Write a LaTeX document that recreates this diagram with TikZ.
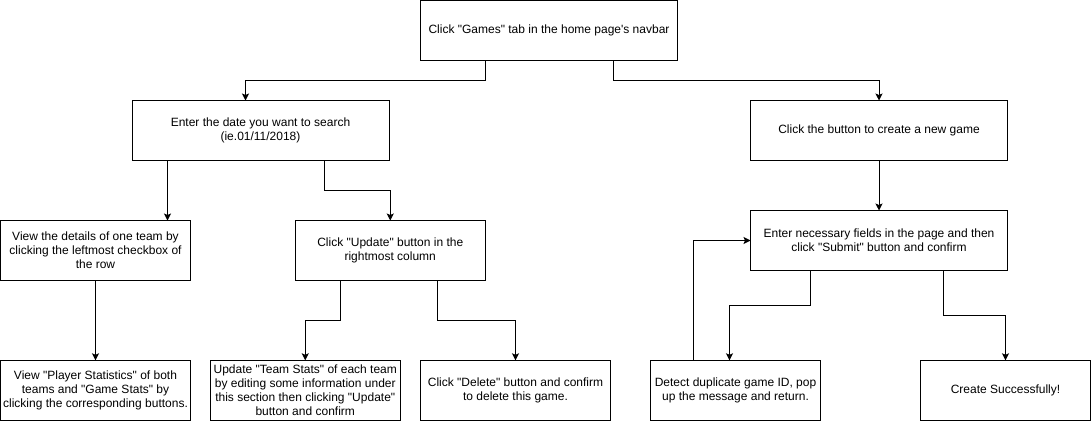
\documentclass[tikz,border=0pt]{standalone}
\usepackage{fontspec}
\setmainfont{Liberation Sans}[Ligatures=TeXOff]
\usetikzlibrary{arrows.meta}
\tikzset{
  box/.style={draw=black, line width=1pt, fill=white, inner sep=0pt, outer sep=0pt,
    align=center, minimum height=60pt, font=\fontsize{12pt}{14pt}\selectfont},
  arr/.style={draw=black, line width=1pt, -{Stealth[length=7pt,width=7pt,inset=1.5pt]}}
}
\begin{document}
\begin{tikzpicture}[x=1pt,y=-1pt]
\useasboundingbox[fill=white] (0,0) rectangle (1091,421);
% nodes
\node[box, minimum width=257pt] (top) at (549,30.3) {Click "Games" tab in the home page's navbar};
\node[box, minimum width=257pt] (date) at (260.5,130.5) {Enter the date you want to search\\(ie.01/11/2018)};
\node[box, minimum width=257pt] (create) at (879,130.5) {Click the button to create a new game};
\node[box, minimum width=190pt] (view) at (95.5,250.5) {View the details of one team by\\clicking the leftmost checkbox of\\the row};
\node[box, minimum width=190pt] (update) at (390.25,250.5) {Click "Update" button in the\\rightmost column};
\node[box, minimum width=190pt] (player) at (95.5,390.3) {View "Player Statistics" of both\\teams and "Game Stats" by\\clicking the corresponding buttons.};
\node[box, minimum width=190pt] (team) at (305.25,390.3) {Update "Team Stats" of each team\\by editing some information under\\this section then clicking "Update"\\button and confirm};
\node[box, minimum width=190pt] (delete) at (515.5,390.3) {Click "Delete" button and confirm\\to delete this game.};
\node[box, minimum width=257pt] (enter) at (879,240.5) {Enter necessary fields in the page and then\\click "Submit" button and confirm};
\node[box, minimum width=170pt] (detect) at (735.5,390.3) {Detect duplicate game ID, pop\\up the message and return.};
\node[box, minimum width=170pt] (success) at (1005.5,390.3) {Create Successfully!};
% connectors
\draw[arr] ([xshift=-64pt]top.south) -- ++(0,20) -| ([xshift=-15pt]date.north);
\draw[arr] ([xshift=64.5pt]top.south) -- ++(0,20) -| (create.north);
\draw[arr] ([xshift=-93pt]date.south) -- ([xshift=-93pt]date.south |- view.north);
\draw[arr] ([xshift=64pt]date.south) -- ++(0,30) -| (update.north);
\draw[arr] (view.south) -- (player.north);
\draw[arr] ([xshift=-50pt]update.south) -- ++(0,40) -| (team.north);
\draw[arr] ([xshift=47pt]update.south) -- ++(0,40) -| (delete.north);
\draw[arr] (create.south) -- (enter.north);
\draw[arr] ([xshift=-68.5pt]enter.south) -- ++(0,35) -| ([xshift=-6pt]detect.north);
\draw[arr] ([xshift=-42pt]detect.north) |- (enter.west);
\draw[arr] ([xshift=64.5pt]enter.south) -- ++(0,45) -| (success.north);
\end{tikzpicture}
\end{document}
